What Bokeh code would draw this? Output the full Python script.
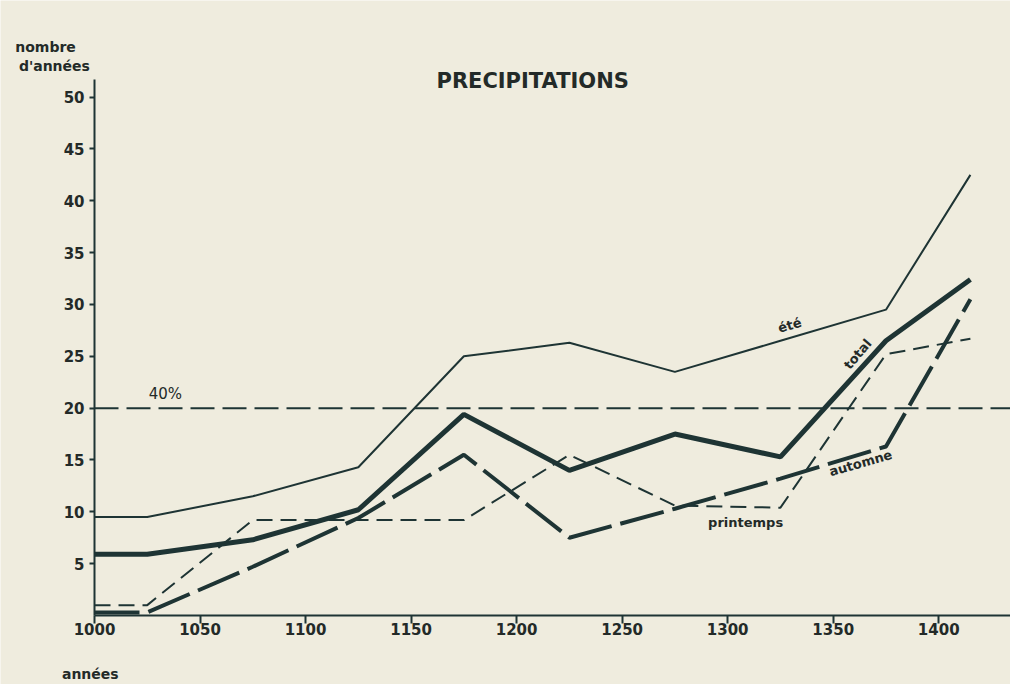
from bokeh.plotting import figure
from bokeh.models import Label, FixedTicker, Range1d
from bokeh.embed import file_html
from bokeh.resources import INLINE

# --- data ---
years = [1000, 1025, 1075, 1125, 1175, 1225, 1275, 1325, 1375, 1415]
ete = [9.5, 9.5, 11.5, 14.3, 25.0, 26.3, 23.5, 26.5, 29.5, 42.5]
total = [5.9, 5.9, 7.3, 10.2, 19.4, 14.0, 17.5, 15.3, 26.5, 32.4]
printemps = [1.0, 1.0, 9.2, 9.2, 9.2, 15.5, 10.6, 10.4, 25.2, 26.7]
automne = [0.3, 0.3, 4.7, 9.4, 15.5, 7.5, 10.3, 13.2, 16.3, 30.5]
seuil_40 = 20
x_ticks = [1000, 1050, 1100, 1150, 1200, 1250, 1300, 1350, 1400]
y_ticks = [5, 10, 15, 20, 25, 30, 35, 40, 45, 50]

X0, X1 = 1000, 1434      # extent of the x axis
Y0, Y1 = 0, 51.7         # extent of the y axis

INK = "#1e3434"
TXT = "#232a28"
BG = "#efecde"
FONT = "DejaVu Sans"

p = figure(width=1010, height=684, output_backend="svg", toolbar_location=None,
           x_range=Range1d(955.46, 1434), y_range=Range1d(-6.656, 59.32),
           min_border_left=0, min_border_right=0, min_border_top=0, min_border_bottom=0)
p.title.visible = False
p.background_fill_color = BG
p.border_fill_color = BG
p.outline_line_color = None
p.xgrid.visible = False
p.ygrid.visible = False

for ax in (p.xaxis, p.yaxis):
    ax.axis_line_color = INK
    ax.axis_line_width = 2
    ax.major_tick_line_color = INK
    ax.major_tick_line_width = 2
    ax.minor_tick_line_color = None
    ax.major_label_text_font = FONT
    ax.major_label_text_font_style = "bold"
    ax.major_label_text_font_size = "15px"
    ax.major_label_text_color = TXT

p.xaxis.fixed_location = Y0
p.xaxis.bounds = (X0, X1)
p.xaxis.ticker = FixedTicker(ticks=x_ticks)
p.xaxis.major_tick_out = 8
p.xaxis.major_tick_in = 0
p.xaxis.major_label_standoff = 0

p.yaxis.fixed_location = X0
p.yaxis.bounds = (Y0, Y1)
p.yaxis.ticker = FixedTicker(ticks=y_ticks)
p.yaxis.major_tick_out = 5
p.yaxis.major_tick_in = 0
p.yaxis.major_label_standoff = 5

# 40 % line
p.line([X0, X1], [seuil_40, seuil_40], line_color=INK, line_width=2, line_dash="24 8")

p.line(years, ete, line_color=INK, line_width=2)
p.line(years, total, line_color=INK, line_width=5)
p.line(years, printemps, line_color=INK, line_width=2, line_dash="16 8")
p.line(years, automne, line_color=INK, line_width=4, line_dash="45 9")

def lab(x, y, t, size="14px", style="bold", angle=0.0, align="center"):
    p.add_layout(Label(x=x, y=y, text=t, text_font=FONT, text_font_size=size,
                       text_font_style=style, text_color=TXT, angle=angle,
                       text_align=align, text_baseline="middle"))

lab(1207.6, 51.6, "PRECIPITATIONS", size="21px")
lab(976.8, 54.8, "nombre", size="14px")
lab(981.0, 53.0, "d'années", size="14px")
lab(998.0, -5.6, "années", size="14px")
lab(1033.6, 21.4, "40%", size="15px", style="normal")
lab(1329.4, 28.0, "été", size="13px", angle=0.28)
lab(1361.6, 25.2, "total", size="13px", angle=0.87)
lab(1363.0, 14.7, "automne", size="13px", angle=0.28)
lab(1308.5, 9.0, "printemps", size="13px")

open("out.html", "w").write(file_html(p, INLINE))
